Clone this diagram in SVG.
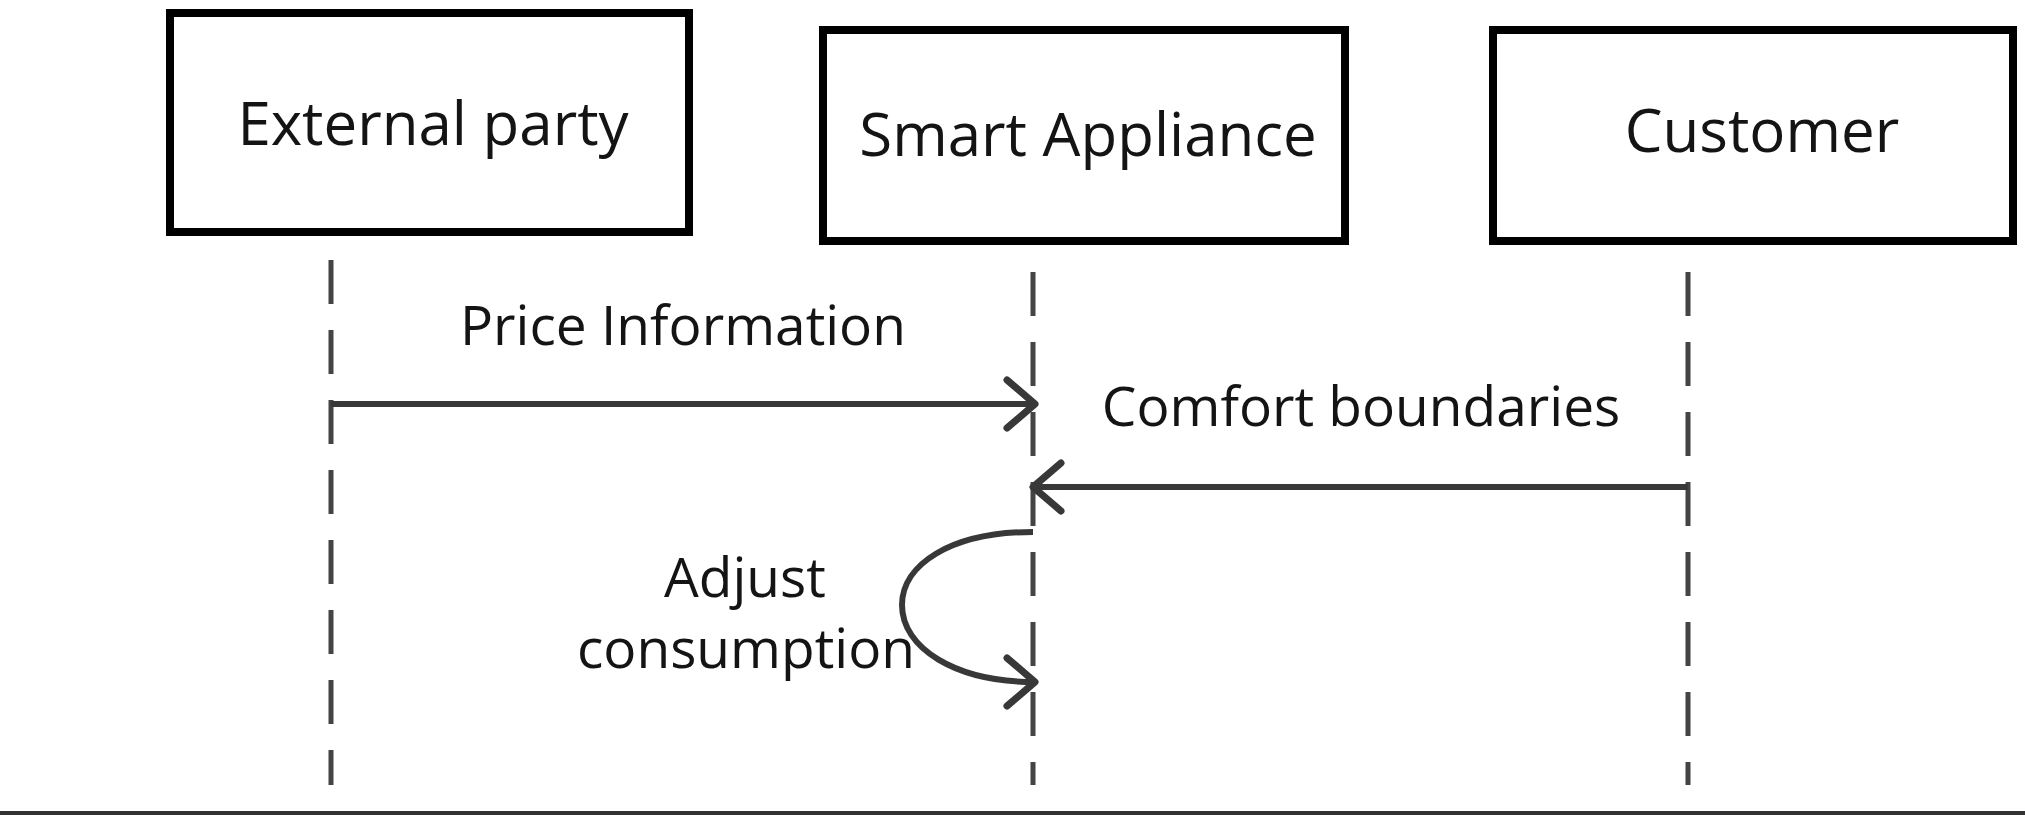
<svg xmlns="http://www.w3.org/2000/svg" width="2025" height="815" viewBox="0 0 2025 815">
  <style>
    .box { fill: #ffffff; stroke: #000000; stroke-width: 8; }
    .title { font-family: "Open Sans", "Noto Sans", sans-serif; font-size: 60px; fill: #141414; text-anchor: middle; }
    .label { font-family: "Open Sans", "Noto Sans", sans-serif; font-size: 55px; fill: #141414; text-anchor: middle; }
    .life { fill: none; stroke: #444444; stroke-width: 5; stroke-dasharray: 44 26; }
    .msg { fill: none; stroke: #383838; stroke-width: 6; marker-end: url(#open); }
  </style>
  <defs>
    <marker id="open" markerUnits="userSpaceOnUse" markerWidth="40" markerHeight="60" viewBox="-34 -30 40 60" refX="0" refY="0" orient="auto" overflow="visible">
      <path d="M-28,-24 L0,0 L-28,24" fill="none" stroke="#383838" stroke-width="7" stroke-linecap="round" stroke-linejoin="round"/>
    </marker>
  </defs>
  <rect width="2025" height="815" fill="#ffffff"/>

  <g id="external-party">
    <rect class="box" x="170" y="13" width="519" height="219"/>
    <text class="title" x="433" y="145">External party</text>
  </g>
  <g id="smart-appliance">
    <rect class="box" x="823" y="30" width="522" height="211"/>
    <text class="title" x="1088" y="156">Smart Appliance</text>
  </g>
  <g id="customer">
    <rect class="box" x="1493" y="30" width="520" height="211"/>
    <text class="title" x="1762" y="152">Customer</text>
  </g>

  <g id="lifelines">
    <line class="life" x1="331" y1="260" x2="331" y2="785"/>
    <line class="life" x1="1033" y1="272" x2="1033" y2="785"/>
    <line class="life" x1="1688" y1="272" x2="1688" y2="785"/>
  </g>

  <g id="connectors">
    <line class="msg" x1="331" y1="404" x2="1035" y2="404"/>
    <line class="msg" x1="1688" y1="487" x2="1033" y2="487"/>
    <path class="msg" d="M1033,532 C950,532 902,565 902,605 C902,648 955,682 1035,682"/>
  </g>

  <g id="labels">
    <text class="label" x="683" y="345">Price Information</text>
    <text class="label" x="1361" y="426">Comfort boundaries</text>
    <text class="label" x="745" y="597">Adjust</text>
    <text class="label" x="746" y="668">consumption</text>
  </g>

  <line x1="0" y1="813" x2="2025" y2="813" stroke="#333333" stroke-width="4"/>
</svg>
